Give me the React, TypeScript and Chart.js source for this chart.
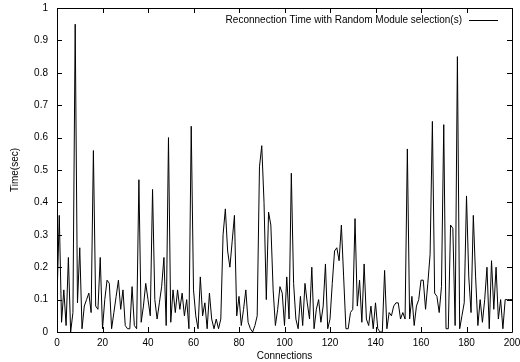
import React, { useEffect, useRef } from "react";
import { Chart, registerables } from "chart.js";

Chart.register(...registerables);

const seriesLabel = "Reconnection Time with Random Module selection(s)";
const xTitle = "Connections";
const yTitle = "Time(sec)";

const timeValues: number[] = [
  0.10, 0.36, 0.03, 0.13, 0.02, 0.23, 0.00, 0.06, 0.95, 0.09,
  0.26, 0.01, 0.08, 0.10, 0.12, 0.06, 0.56, 0.08, 0.07, 0.23,
  0.01, 0.10, 0.16, 0.15, 0.01, 0.06, 0.11, 0.16, 0.07, 0.13,
  0.02, 0.01, 0.01, 0.14, 0.02, 0.01, 0.47, 0.03, 0.08, 0.15,
  0.10, 0.05, 0.44, 0.10, 0.04, 0.09, 0.14, 0.23, 0.02, 0.60,
  0.03, 0.13, 0.06, 0.13, 0.07, 0.12, 0.05, 0.10, 0.01, 0.635,
  0.13, 0.05, 0.01, 0.17, 0.05, 0.09, 0.01, 0.12, 0.04, 0.01,
  0.04, 0.01, 0.04, 0.30, 0.38, 0.25, 0.20, 0.28, 0.36, 0.05,
  0.11, 0.02, 0.07, 0.13, 0.03, 0.01, 0.00, 0.02, 0.05, 0.51,
  0.575, 0.40, 0.10, 0.37, 0.33, 0.13, 0.02, 0.07, 0.14, 0.12,
  0.02, 0.17, 0.04, 0.49, 0.15, 0.04, 0.01, 0.11, 0.02, 0.15,
  0.09, 0.04, 0.20, 0.01, 0.07, 0.10, 0.03, 0.08, 0.21, 0.01,
  0.04, 0.15, 0.25, 0.26, 0.22, 0.33, 0.17, 0.01, 0.01, 0.06,
  0.07, 0.35, 0.08, 0.16, 0.03, 0.21, 0.04, 0.02, 0.08, 0.01,
  0.09, 0.01, 0.00, 0.00, 0.19, 0.01, 0.06, 0.05, 0.08, 0.09,
  0.09, 0.04, 0.06, 0.04, 0.565, 0.04, 0.11, 0.02, 0.08, 0.10,
  0.16, 0.16, 0.07, 0.15, 0.24, 0.65, 0.12, 0.11, 0.06, 0.14,
  0.64, 0.01, 0.01, 0.33, 0.32, 0.02, 0.85, 0.01, 0.05, 0.09,
  0.42, 0.17, 0.06, 0.36, 0.17, 0.02, 0.10, 0.03, 0.10, 0.20,
  0.01, 0.22, 0.07, 0.20, 0.04, 0.10, 0.01, 0.10, 0.10, 0.10,
  0.10,
];

const FONT = "'Liberation Sans', Arial, sans-serif";

const framePlugin = {
  id: "gnuFrame",
  afterDraw(chart: any) {
    const { ctx, chartArea } = chart;
    const { left, right, top, bottom } = chartArea;
    const xs = chart.scales.x;
    const ys = chart.scales.y;
    ctx.save();
    ctx.strokeStyle = "#000";
    ctx.lineWidth = 1;
    ctx.beginPath();
    ctx.rect(Math.round(left) + 0.5, Math.round(top) + 0.5, Math.round(right - left), Math.round(bottom - top));
    ctx.stroke();
    const tl = 5;
    ctx.beginPath();
    xs.ticks.forEach((t: any) => {
      const px = Math.round(xs.getPixelForValue(t.value)) + 0.5;
      ctx.moveTo(px, bottom);
      ctx.lineTo(px, bottom - tl);
      ctx.moveTo(px, top);
      ctx.lineTo(px, top + tl);
    });
    ys.ticks.forEach((t: any) => {
      const py = Math.round(ys.getPixelForValue(t.value)) + 0.5;
      ctx.moveTo(left, py);
      ctx.lineTo(left + tl, py);
      ctx.moveTo(right, py);
      ctx.lineTo(right - tl, py);
    });
    ctx.stroke();
    // key
    const label = chart.data.datasets[0].label;
    ctx.font = `10px ${FONT}`;
    ctx.fillStyle = "#000";
    ctx.textAlign = "right";
    ctx.textBaseline = "middle";
    const ky = top + 12;
    ctx.fillText(label, right - 50, ky);
    ctx.beginPath();
    ctx.moveTo(right - 43, Math.round(ky) + 0.5);
    ctx.lineTo(right - 14, Math.round(ky) + 0.5);
    ctx.stroke();
    ctx.restore();
  },
};

export default function App() {
  const ref = useRef<HTMLCanvasElement>(null);
  useEffect(() => {
    document.body.style.margin = "0";
    const points = timeValues.map((v, i) => ({ x: i, y: v }));
    const chart = new Chart(ref.current!, {
      type: "line",
      data: {
        datasets: [
          {
            label: seriesLabel,
            data: points,
            borderColor: "#000",
            borderWidth: 1,
            pointRadius: 0,
            tension: 0,
            fill: false,
          },
        ],
      },
      options: {
        animation: false,
        responsive: false,
        maintainAspectRatio: false,
        layout: { padding: { top: 8, right: 8, left: 0, bottom: 0 } },
        plugins: { legend: { display: false }, tooltip: { enabled: false } },
        scales: {
          x: {
            type: "linear",
            min: 0,
            max: 200,
            grid: { display: false, drawTicks: false },
            border: { display: false },
            ticks: { stepSize: 20, color: "#000", font: { family: FONT, size: 10 }, padding: 5, maxRotation: 0 },
            title: { display: true, text: xTitle, color: "#000", font: { family: FONT, size: 10 }, padding: { top: 1, bottom: 0 } },
            afterFit: (s: any) => {
              s.height = 30;
              s.paddingLeft = 0;
              s.paddingRight = 0;
            },
          },
          y: {
            min: 0,
            max: 1,
            grid: { display: false, drawTicks: false },
            border: { display: false },
            ticks: {
              stepSize: 0.1,
              color: "#000",
              font: { family: FONT, size: 10 },
              padding: 9,
              callback: (v: any) => String(Math.round(Number(v) * 10) / 10),
            },
            title: { display: true, text: yTitle, color: "#000", font: { family: FONT, size: 10 }, padding: { top: 9, bottom: 0 } },
            afterFit: (s: any) => {
              s.width = 57;
              s.paddingTop = 0;
              s.paddingBottom = 0;
            },
          },
        },
      },
      plugins: [framePlugin],
    });
    return () => chart.destroy();
  }, []);
  return (
    <div style={{ position: "relative", width: 520, height: 362 }}>
      <canvas ref={ref} width={520} height={362} style={{ width: 520, height: 362, display: "block" }} />
    </div>
  );
}
